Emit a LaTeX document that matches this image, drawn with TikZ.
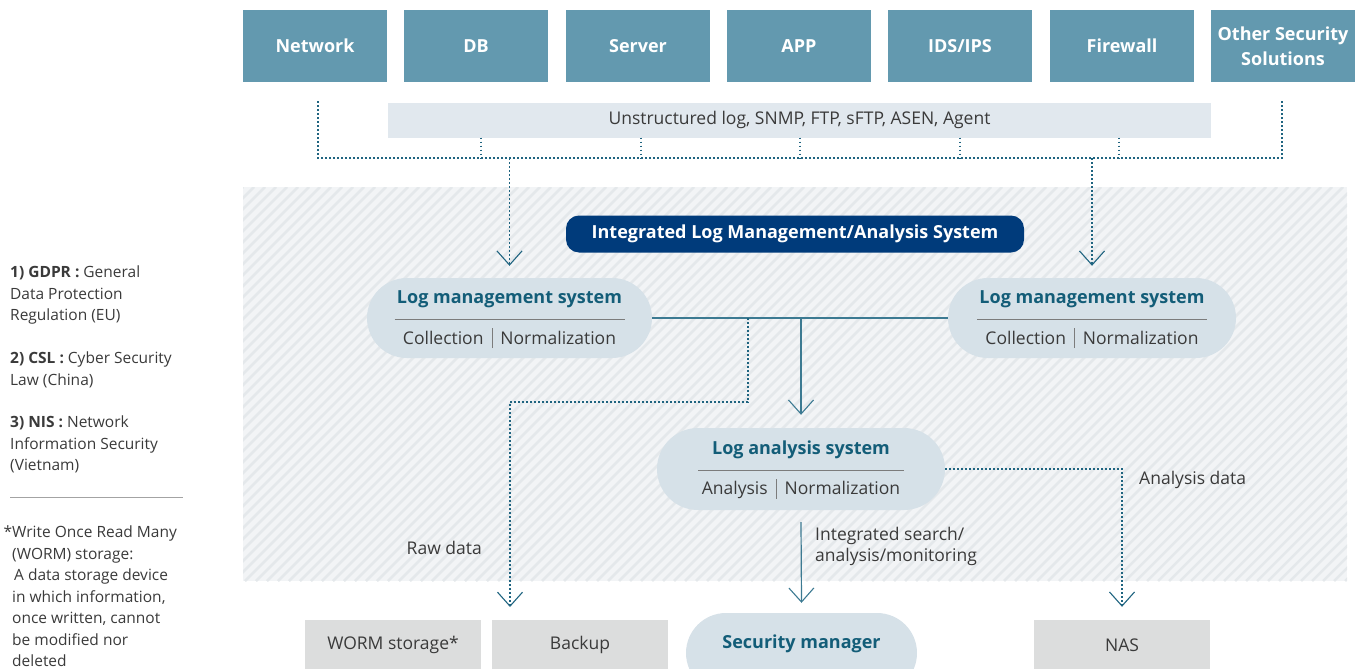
\documentclass[tikz,border=0pt]{standalone}
\usepackage{fontspec}
\setmainfont{Open Sans}
\usetikzlibrary{arrows.meta}
\definecolor{srcteal}{HTML}{6399AF}
\definecolor{protobar}{HTML}{E1E8EE}
\definecolor{dotblue}{HTML}{1F6480}
\definecolor{linkteal}{HTML}{3C7A92}
\definecolor{pillfill}{HTML}{D6E1E8}
\definecolor{titleteal}{HTML}{135D78}
\definecolor{hubnavy}{HTML}{003B7B}
\definecolor{storegray}{HTML}{DCDDDD}
\definecolor{textgray}{HTML}{3A3A3A}
\definecolor{hatchbg}{HTML}{F2F4F6}
\definecolor{hatchln}{HTML}{E4E8EB}
\definecolor{rulegray}{HTML}{7C7C7C}
\newcommand{\barsep}{\hspace{8pt}{\color{rulegray}\rule[-4pt]{0.9pt}{20pt}}\hspace{8pt}}
\tikzset{
  src/.style={fill=srcteal, text=white, minimum width=144pt, minimum height=72pt,
              inner sep=0pt, align=center, font=\fontsize{18}{25}\selectfont\bfseries},
  proto/.style={fill=protobar, text=textgray, minimum width=823pt, minimum height=35pt,
                inner sep=0pt, font=\fontsize{17.5}{20}\selectfont},
  hub/.style={fill=hubnavy, text=white, minimum width=458pt, minimum height=37pt,
              rounded corners=13pt, inner sep=0pt, font=\fontsize{18}{20}\selectfont\bfseries},
  pill/.style={fill=pillfill, minimum width=#1, minimum height=80pt, rounded corners=40pt,
               inner sep=0pt},
  ptitle/.style={text=titleteal, inner sep=0pt, font=\fontsize{18}{20}\selectfont\bfseries},
  prow/.style={text=textgray, inner sep=0pt, font=\fontsize{17.5}{20}\selectfont},
  prule/.style={draw=rulegray, line width=1pt},
  store/.style={fill=storegray, text=textgray, minimum width=176pt, minimum height=50pt,
                inner sep=0pt, font=\fontsize{17.5}{20}\selectfont},
  lbl/.style={text=textgray, inner sep=0pt, font=\fontsize{17.5}{21}\selectfont},
  note/.style={anchor=north west, text=textgray, inner sep=0pt, align=left,
               font=\fontsize{15.5}{21.5}\selectfont},
  dl/.style={draw=dotblue, line width=1.6pt, dash pattern=on 1.6pt off 2.4pt},   % dotted feed
  sl/.style={draw=linkteal, line width=1.2pt},                                   % solid link
  vtip/.style={-{Straight Barb[length=14pt, width=25pt, line width=1.1pt]}},
}

\begin{document}
\begin{tikzpicture}[x=1pt, y=-1pt]
  \useasboundingbox (0,0) rectangle (1363,669);
  % hatched back panel
  \begin{scope}
    \clip (243,187) rectangle (1347,581);
    \fill[hatchbg] (243,187) rectangle (1347,581);
    \foreach \i in {0,...,140}
      \draw[hatchln, line width=2.5pt] ({-151+\i*11},581) -- ++(394,-394);
  \end{scope}
  % sources
  \foreach \n/\x/\t in {net/315/Network, db/476/DB, srv/638/Server, app/799/APP,
                        ids/960/{IDS/IPS}, fw/1122/Firewall, oth/1283/{Other Security\\Solutions}}
    \node[src] (\n) at (\x,46) {\t};
  \node[proto] (proto) at (799.5,120) {Unstructured log, SNMP, FTP, sFTP, ASEN, Agent};
  % systems
  \node[hub] (ilm) at (795,234) {Integrated Log Management/Analysis System};
  \node[pill=285pt] (lmsL) at (509.5,318) {};
  \node[pill=288pt] (lmsR) at (1092,318) {};
  \node[pill=288pt, minimum height=82pt, rounded corners=41pt] (ana) at (801,469) {};
  \node[pill=231pt] (smgr) at (801.5,653) {};
  \node[ptitle] (smgr-t) at (801.5,644) {Security manager};
  \foreach \p/\t/\r/\w in {lmsL/Log management system/Collection/115,
                           lmsR/Log management system/Collection/115,
                           ana/Log analysis system/Analysis/103} {
    \node[ptitle] (\p-t) at ([yshift=19pt]\p.center) {\t};
    \draw[prule] ([xshift=-\w pt, yshift=-1pt]\p.center) -- ([xshift=\w pt, yshift=-1pt]\p.center);
    \node[prow] (\p-r) at ([yshift=-20pt]\p.center) {\r\barsep Normalization};
  }
  % storage
  \node[store] (worm) at (393,645) {WORM storage*};
  \node[store] (bak) at (580,645) {Backup};
  \node[store] (nas) at (1122,645) {NAS};
  % feeds
  \coordinate (netTap) at (318,101);
  \coordinate (othTap) at (1282,101);
  \coordinate (busL) at (318,158);
  \coordinate (busR) at (1282,158);
  \draw[dl] (netTap) -- (busL) -- (busR) -- (othTap);
  \foreach \x in {481,641,800,960,1119}
    \draw[dl] (proto.south -| \x,0) -- (busL -| \x,0);
  \draw[dl, vtip] (busL -| lmsL.north) -- ([yshift=12pt]lmsL.north);
  \draw[dl, vtip] (busL -| lmsR.north) -- ([yshift=12pt]lmsR.north);
  \draw[sl] (lmsL.east) -- (lmsR.west);
  \draw[sl, vtip] (lmsL.east -| ana.north) -- ([yshift=13pt]ana.north);
  \draw[sl, vtip] ([yshift=-12pt]ana.south) -- ([yshift=10pt]smgr.north);
  \coordinate (rawTap) at (748,318);
  \coordinate (rawTip) at (510,607);
  \draw[dl, vtip] (rawTap) -- ++(0,84) -| (rawTip);
  \draw[dl, vtip] (ana.east) -| ([yshift=13pt]nas.north);
  % labels
  \node[lbl, anchor=east] (raw-l) at (482,548) {Raw data};
  \node[lbl, anchor=west] (ana-l) at (1139,480) {Analysis data};
  \node[lbl, anchor=west, align=left] (srch-l) at (815,546) {Integrated search/\\analysis/monitoring};
  % notes
  \node[note] (gdpr) at (10,266) {\textbf{1) GDPR :} General\\Data Protection\\Regulation (EU)};
  \node[note] (csl) at (10,352) {\textbf{2) CSL :} Cyber Security\\Law (China)};
  \node[note] (nis) at (10,416) {\textbf{3) NIS :} Network\\Information Security\\(Vietnam)};
  \draw[draw=rulegray!70, line width=0.8pt] (10,497) -- (183,497);
  \node[note] (wormnote) at (12,526) {\llap{*}Write Once Read Many\\(WORM) storage:\\
    \hspace*{2pt}A data storage device\\in which information,\\once written, cannot\\
    be modified nor\\deleted};
\end{tikzpicture}
\end{document}
